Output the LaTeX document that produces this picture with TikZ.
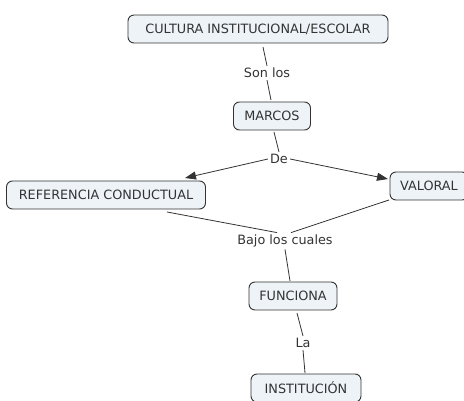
\documentclass[tikz,border=0pt]{standalone}
\usepackage{fontspec}
\setmainfont{DejaVu Sans}
\usetikzlibrary{arrows.meta}
\definecolor{conceptfill}{HTML}{EDF3F7}
\definecolor{ink}{HTML}{333333}
\begin{document}
\begin{tikzpicture}[x=1pt,y=-1pt,
  concept/.style={draw=ink, line width=0.9pt, fill=conceptfill, rounded corners=6pt,
    inner sep=0pt, minimum height=28pt, font=\fontsize{12.8}{14}\selectfont, text=ink},
  linkword/.style={inner sep=2pt, font=\fontsize{12.8}{14}\selectfont, text=ink},
  link/.style={draw=ink, line width=0.8pt},
  arrowlink/.style={link, -{Triangle[length=11pt,width=8pt]}}]
\useasboundingbox (0,0) rectangle (464,401);
% concepts
\node[concept, minimum width=260pt] (cultura) at (258,29) {CULTURA INSTITUCIONAL/ESCOLAR};
\node[concept, minimum width=77pt] (marcos) at (272,116) {MARCOS};
\node[concept, minimum width=199pt] (referencia) at (106,195) {REFERENCIA CONDUCTUAL};
\node[concept, minimum width=78pt] (valoral) at (429,186) {VALORAL};
\node[concept, minimum width=88pt] (funciona) at (293,296) {FUNCIONA};
\node[concept, minimum width=110pt] (institucion) at (306,388) {INSTITUCIÓN};
% linking phrases
\node[linkword] (sonlos) at (267,73) {Son los};
\node[linkword] (de) at (279,159) {De};
\node[linkword] (bajo) at (285,241) {Bajo los cuales};
\node[linkword] (la) at (303,343) {La};
% connections
\draw[link] (263,47) -- (sonlos.north);
\draw[link] (sonlos.south) -- (271,100);
\draw[link] (274,132) -- (de.north);
\draw[arrowlink] (de.west) -- (185,178);
\draw[arrowlink] (de.east) -- (388,179);
\draw[link] (167,212) -- ([xshift=-8pt]bajo.north);
\draw[link] (389,200) -- ([xshift=6pt]bajo.north);
\draw[link] (bajo.south) -- (290,281);
\draw[link] (297,313) -- (la.north);
\draw[link] (la.south) -- (305,373);
\end{tikzpicture}
\end{document}
